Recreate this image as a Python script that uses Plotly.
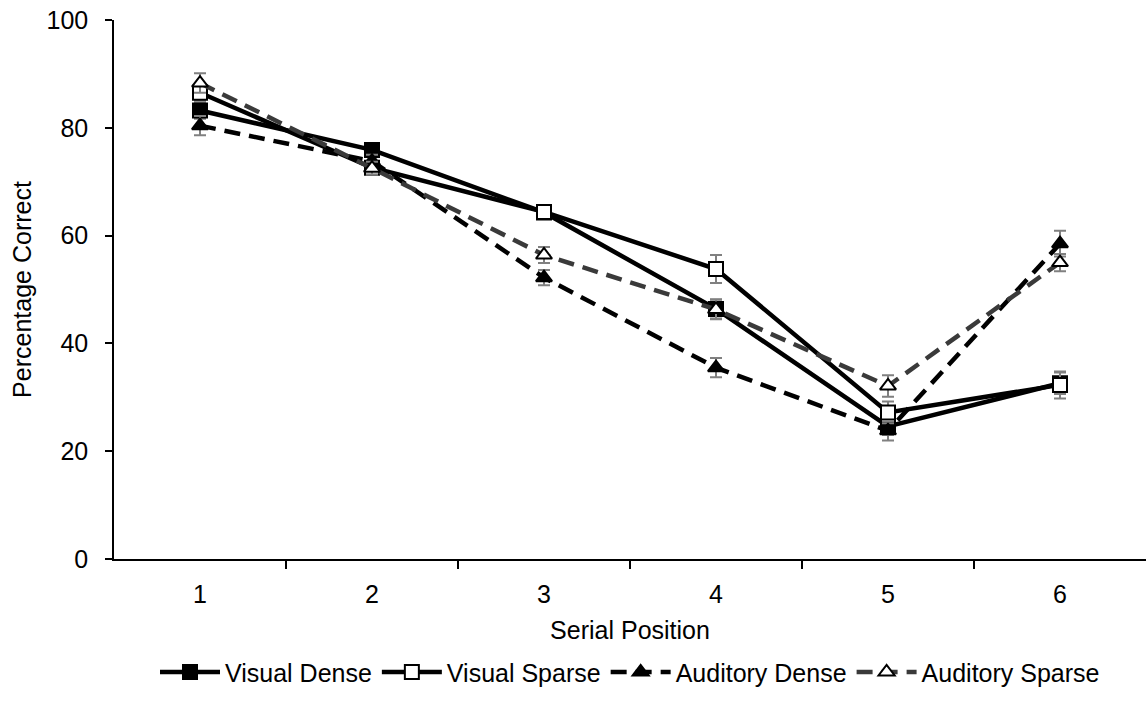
import plotly.graph_objects as go

positions = [1, 2, 3, 4, 5, 6]
tick_labels = ["1", "2", "3", "4", "5", "6"]

visual_dense = [83.2, 75.9, 64.3, 46.4, 24.6, 32.6]
visual_sparse = [86.5, 72.6, 64.4, 53.8, 27.2, 32.3]
auditory_dense = [80.4, 73.8, 52.2, 35.5, 23.8, 58.5]
auditory_sparse = [88.3, 72.5, 56.4, 46.3, 32.1, 55.0]

err_visual_dense = [1.5, 1.2, 1.2, 1.8, 1.6, 2.0]
err_visual_sparse = [1.5, 1.2, 1.2, 2.6, 2.0, 2.5]
err_auditory_dense = [1.8, 1.2, 1.4, 1.8, 1.8, 2.4]
err_auditory_sparse = [1.8, 1.2, 1.5, 1.8, 2.0, 1.6]

series = [
    ("Visual Dense", visual_dense, err_visual_dense, "black", "solid", "square", "black"),
    ("Visual Sparse", visual_sparse, err_visual_sparse, "black", "solid", "square", "white"),
    ("Auditory Dense", auditory_dense, err_auditory_dense, "black", "16px,9px", "triangle-up", "black"),
    ("Auditory Sparse", auditory_sparse, err_auditory_sparse, "#3a3a3a", "16px,9px", "triangle-up", "white"),
]

fig = go.Figure()
for name, vals, errs, color, dash, sym, fill in series:
    fig.add_trace(go.Scatter(
        x=positions, y=vals, name=name, mode="lines+markers",
        line=dict(color=color, width=4.5, dash=dash),
        marker=dict(symbol=sym, size=14, color=fill, line=dict(color="black", width=2)),
        error_y=dict(type="data", array=errs, visible=True, color="#808080", thickness=2, width=6),
    ))

FS = 25
font = dict(family="Liberation Sans, Arial, sans-serif", size=FS, color="black")
fig.update_layout(
    width=1146, height=713,
    margin=dict(l=114, r=0, t=20, b=154),
    paper_bgcolor="white", plot_bgcolor="white",
    font=font,
    showlegend=True,
    legend=dict(orientation="h", x=0.5, xanchor="center", y=-0.21, yanchor="middle",
                font=dict(size=FS), itemwidth=60, tracegroupgap=0),
    xaxis=dict(
        range=[0.5, 6.5], tickvals=positions, ticktext=tick_labels,
        showline=True, linecolor="black", linewidth=1.5, ticks="", showgrid=False, zeroline=False,
        title=dict(text="Serial Position", font=dict(size=FS), standoff=15),
        minor=dict(tickvals=[1.5, 2.5, 3.5, 4.5, 5.5], ticks="outside", ticklen=8,
                   tickcolor="black", tickwidth=1.5, showgrid=False),
        ticklabelstandoff=12,
    ),
    yaxis=dict(
        range=[0, 100], tickvals=[0, 20, 40, 60, 80, 100],
        showline=True, linecolor="black", linewidth=1.5, ticks="outside", ticklen=7,
        tickcolor="black", tickwidth=1.5, showgrid=False, zeroline=False,
        title=dict(text="Percentage Correct", font=dict(size=FS), standoff=8),
        ticklabelstandoff=12,
    ),
)

fig.write_html("out.html")
